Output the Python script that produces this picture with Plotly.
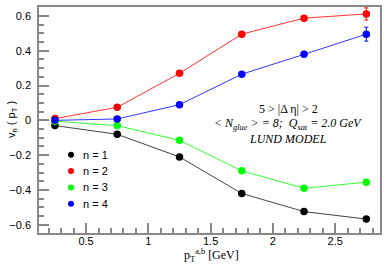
import plotly.graph_objects as go

pt = [0.25, 0.75, 1.25, 1.75, 2.25, 2.75]
v1 = [-0.03, -0.08, -0.21, -0.42, -0.524, -0.567]
v2 = [0.01, 0.075, 0.27, 0.495, 0.587, 0.611]
v3 = [-0.005, -0.03, -0.115, -0.29, -0.39, -0.355]
v4 = [0.0, 0.008, 0.09, 0.265, 0.379, 0.495]
err2 = [0, 0, 0, 0, 0.01, 0.035]
err4 = [0, 0, 0, 0, 0.01, 0.04]
names = ["n = 1", "n = 2", "n = 3", "n = 4"]
colors = ["#000000", "#ff0000", "#00ff00", "#0000ff"]
line_colors = ["#444444", "#ff3333", "#33ff33", "#3333ff"]

W, H = 390, 265
ML, MR, MT, MB = 39, 10, 5, 32
PW, PH = W - ML - MR, H - MT - MB

fig = go.Figure()
series = [v1, v2, v3, v4]
errs = [None, err2, None, err4]
for y, e, c, lc, nm in zip(series, errs, colors, line_colors, names):
    tr = dict(x=pt, y=y, mode="lines+markers", showlegend=False, name=nm,
              line=dict(color=lc, width=1), marker=dict(color=c, size=7.5))
    if e is not None:
        tr["error_y"] = dict(type="data", array=e, color=c, thickness=1, width=2)
    fig.add_trace(go.Scatter(**tr))

sans = "Liberation Sans, Arial, sans-serif"
serif = "Liberation Serif, Times New Roman, serif"

# legend (markers + labels) in paper coordinates
leg_x_px, leg_text_px = 71, 81
leg_y_px = [154, 170.5, 187, 203.5]
r = 3
for c, nm, ypx in zip(colors, names, leg_y_px):
    cx = (leg_x_px - ML) / PW
    cy = (H - MB - ypx) / PH
    fig.add_shape(type="circle", xref="paper", yref="paper",
                  x0=cx - r / PW, x1=cx + r / PW, y0=cy - r / PH, y1=cy + r / PH,
                  fillcolor=c, line=dict(color=c, width=0))
    fig.add_annotation(text=nm, xref="paper", yref="paper", x=(leg_text_px - ML) / PW, y=cy,
                       xanchor="left", yanchor="middle", showarrow=False,
                       font=dict(family=sans, size=11, color="#000"))

axis_common = dict(showline=True, mirror=True, linecolor="#888888", linewidth=1.5,
                   ticks="inside", tickcolor="#888888", tickwidth=1.5, ticklen=10,
                   showgrid=False, zeroline=False,
                   tickfont=dict(family=sans, size=11, color="#000"))
fig.update_xaxes(range=[0.122, 2.86], tickvals=[0.5, 1, 1.5, 2, 2.5],
                 ticktext=["0.5", "1", "1.5", "2", "2.5"], ticklabelstandoff=-3,
                 minor=dict(ticks="inside", ticklen=5, dtick=0.1, tick0=0, tickcolor="#888888"),
                 **axis_common)
fig.update_yaxes(range=[-0.647, 0.651], tickvals=[-0.6, -0.4, -0.2, 0, 0.2, 0.4, 0.6],
                 ticktext=["\u22120.6", "\u22120.4", "\u22120.2", "0", "0.2", "0.4", "0.6"],
                 ticklabelstandoff=4,
                 minor=dict(ticks="inside", ticklen=5, dtick=0.05, tick0=0, tickcolor="#888888"),
                 **axis_common)

fig.add_annotation(text="v<sub>n</sub> ( p<sub>T</sub> )", xref="paper", yref="paper",
                   x=-0.079, xanchor="center", y=0.5, yanchor="middle", textangle=-90, showarrow=False,
                   font=dict(family=sans, size=11, color="#000"))
fig.add_annotation(text="p<sub>T</sub><sup>a,b</sup> [GeV]", xref="paper", yref="paper",
                   x=(182 - ML) / PW, xanchor="left", y=-0.1, yanchor="middle", showarrow=False,
                   font=dict(family=serif, size=12, color="#000"))
cxa = (288 - ML) / PW
fig.add_annotation(text="5 > |\u0394 \u03b7| > 2", xref="paper", yref="paper",
                   x=cxa, xanchor="center", y=0.548, yanchor="middle", showarrow=False,
                   font=dict(family=serif, size=12, color="#000"))
fig.add_annotation(text="<i>< N<sub>glue</sub> > = 8;  Q<sub>sat</sub> = 2.0 GeV</i>", xref="paper", yref="paper",
                   x=cxa, xanchor="center", y=0.482, yanchor="middle", showarrow=False,
                   font=dict(family=serif, size=12, color="#000"))
fig.add_annotation(text="<i>LUND MODEL</i>", xref="paper", yref="paper",
                   x=cxa, xanchor="center", y=0.417, yanchor="middle", showarrow=False,
                   font=dict(family=serif, size=12, color="#000"))

fig.update_layout(width=W, height=H, margin=dict(l=ML, r=MR, t=MT, b=MB),
                  plot_bgcolor="white", paper_bgcolor="white", showlegend=False)
fig.write_html("out.html", config={"displayModeBar": False},
               post_script="document.body.style.margin='0px';")
